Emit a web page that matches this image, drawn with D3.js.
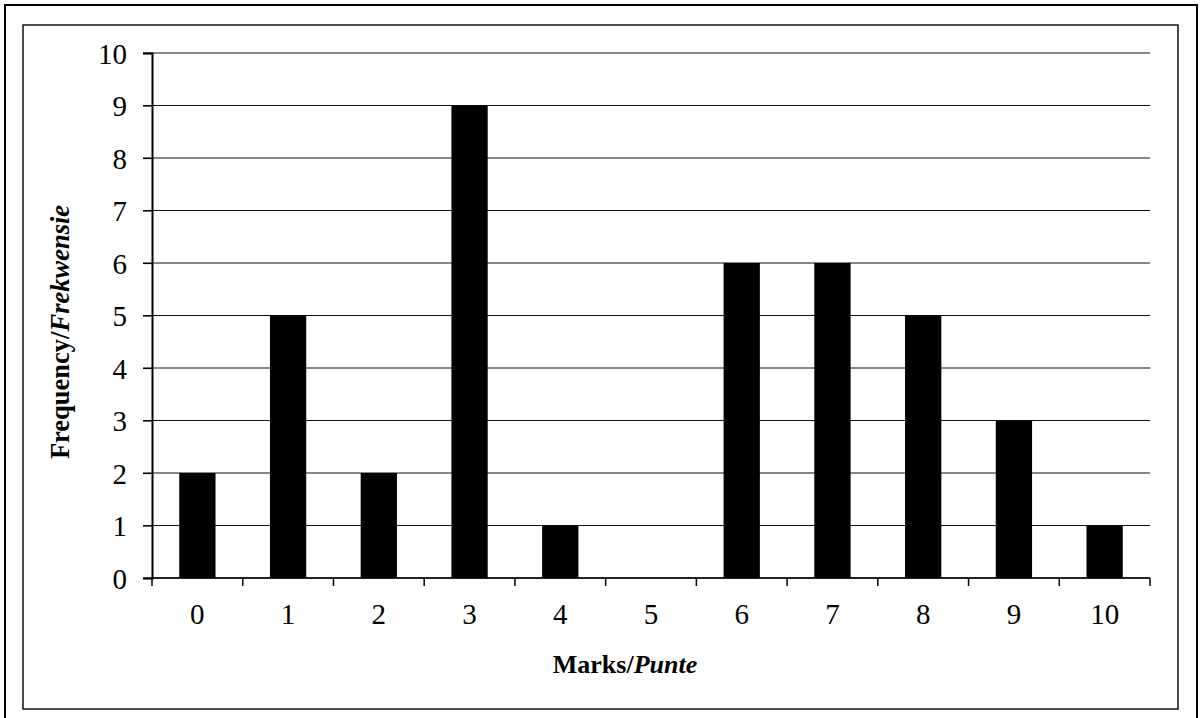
<!DOCTYPE html>
<html><head><meta charset="utf-8">
<script src="https://cdn.jsdelivr.net/npm/d3@7"></script>
<style>html,body{margin:0;padding:0;background:#fff;}svg{display:block;}</style>
</head><body>
<svg id="c" width="1201" height="718"></svg>
<script>
const categories = ["0","1","2","3","4","5","6","7","8","9","10"];
const frequencies = [2,5,2,9,1,0,6,6,5,3,1];
const yTicks = [0,1,2,3,4,5,6,7,8,9,10];
const xTitleMain = "Marks/";
const xTitleItalic = "Punte";
const yTitleMain = "Frequency/";
const yTitleItalic = "Frekwensie";

(function(){
const svg = d3.select("#c");
const font = "'Liberation Serif','Times New Roman',serif";
const pL = 152, pR = 1150, pT = 53, pB = 578;

// frames
svg.append("rect").attr("x",5).attr("y",5).attr("width",1192).attr("height",730)
  .attr("fill","none").attr("stroke","#000").attr("stroke-width",2);
svg.append("rect").attr("x",23).attr("y",25).attr("width",1155).attr("height",684)
  .attr("fill","none").attr("stroke","#111").attr("stroke-width",1.5);

const x = d3.scaleBand().domain(categories).range([pL,pR]).paddingInner(0.6).paddingOuter(0.3);
const xb = d3.scaleBand().domain(categories).range([pL,pR]);
const y = d3.scaleLinear().domain([0,10]).range([pB,pT]);

// gridlines
svg.append("g").selectAll("line").data(yTicks).join("line")
  .attr("x1",143).attr("x2",pR).attr("y1",d=>y(d)).attr("y2",d=>y(d))
  .attr("stroke","#111").attr("stroke-width",1.2);

// bars
svg.append("g").selectAll("rect").data(frequencies).join("rect")
  .attr("x",(d,i)=>x(categories[i])).attr("width",x.bandwidth())
  .attr("y",d=>y(d)).attr("height",d=>y(0)-y(d)).attr("fill","#000");

// y axis
const yAx = svg.append("g").attr("transform",`translate(${pL},0)`)
  .call(d3.axisLeft(y).tickValues(yTicks).tickSize(9).tickPadding(16).tickFormat(d3.format("d")));
yAx.select(".domain").attr("stroke","#000").attr("stroke-width",2);
yAx.selectAll(".tick line").attr("stroke","#000").attr("stroke-width",1.2);
yAx.selectAll("text").attr("font-family",font).attr("font-size",29).attr("fill","#000").attr("dy","0.35em");

// x axis
const bounds = categories.map(c=>xb(c)).concat([pR]);
const xg = svg.append("g");
xg.append("line").attr("x1",pL).attr("x2",pR).attr("y1",pB).attr("y2",pB)
  .attr("stroke","#000").attr("stroke-width",1.5);
xg.selectAll("line.t").data(bounds).join("line").attr("class","t")
  .attr("x1",d=>d).attr("x2",d=>d).attr("y1",pB).attr("y2",pB+8)
  .attr("stroke","#000").attr("stroke-width",1.5);
xg.selectAll("text").data(categories).join("text")
  .attr("x",d=>xb(d)+xb.bandwidth()/2).attr("y",624)
  .attr("text-anchor","middle").attr("font-family",font).attr("font-size",29).text(d=>d);

// titles
const xt = svg.append("text").attr("x",625).attr("y",673).attr("text-anchor","middle")
  .attr("font-family",font).attr("font-size",26).attr("font-weight","bold");
xt.append("tspan").text(xTitleMain);
xt.append("tspan").attr("font-style","italic").text(xTitleItalic);

const yt = svg.append("text").attr("transform",`translate(69,332) rotate(-90)`)
  .attr("text-anchor","middle").attr("font-family",font).attr("font-size",26.5).attr("font-weight","bold");
yt.append("tspan").text(yTitleMain);
yt.append("tspan").attr("font-style","italic").text(yTitleItalic);
})();
</script>
</body></html>
